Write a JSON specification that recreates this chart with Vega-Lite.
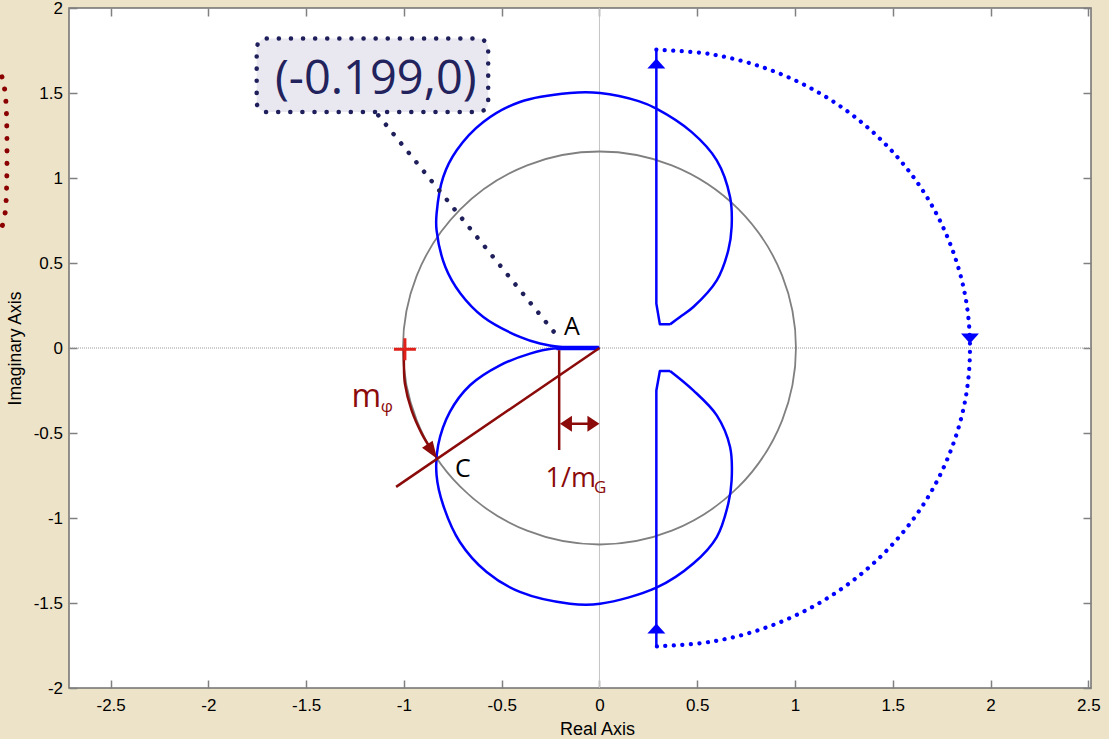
{
  "$schema": "https://vega.github.io/schema/vega-lite/v6.json",
  "width": 1022,
  "height": 680,
  "autosize": {"type": "none"},
  "padding": {"left": 69, "top": 8, "right": 18, "bottom": 51},
  "background": "#EDE3C8",
  "config": {
    "view": {"fill": "white", "stroke": "#707070", "strokeWidth": 1.5},
    "axis": {
      "grid": false, "domain": false,
      "labelFont": "Liberation Sans", "labelFontSize": 17, "labelColor": "black",
      "titleFont": "Liberation Sans", "titleFontSize": 17.5, "titleFontWeight": "normal", "titleColor": "black",
      "tickColor": "#808080", "tickWidth": 1.5
    }
  },
  "datasets": {
    "upper": [
      {"i": 0, "x": 0, "y": 0}, {"i": 1, "x": -0.1, "y": 0.002}, {"i": 2, "x": -0.202, "y": 0.006},
      {"i": 3, "x": -0.304, "y": 0.026}, {"i": 4, "x": -0.407, "y": 0.065}, {"i": 5, "x": -0.594, "y": 0.182},
      {"i": 6, "x": -0.711, "y": 0.32}, {"i": 7, "x": -0.788, "y": 0.476}, {"i": 8, "x": -0.833, "y": 0.692},
      {"i": 9, "x": -0.833, "y": 0.79}, {"i": 10, "x": -0.799, "y": 1.006}, {"i": 11, "x": -0.73, "y": 1.163},
      {"i": 12, "x": -0.594, "y": 1.329}, {"i": 13, "x": -0.407, "y": 1.447}, {"i": 14, "x": -0.151, "y": 1.5},
      {"i": 15, "x": 0.003, "y": 1.5}, {"i": 16, "x": 0.2, "y": 1.452}, {"i": 17, "x": 0.291, "y": 1.408},
      {"i": 18, "x": 0.472, "y": 1.27}, {"i": 19, "x": 0.6, "y": 1.104}, {"i": 20, "x": 0.668, "y": 0.888},
      {"i": 21, "x": 0.676, "y": 0.712}, {"i": 22, "x": 0.659, "y": 0.575}, {"i": 23, "x": 0.6, "y": 0.398},
      {"i": 24, "x": 0.48, "y": 0.241}, {"i": 25, "x": 0.412, "y": 0.182}, {"i": 26, "x": 0.361, "y": 0.139}
    ],
    "lower": [
      {"i": 0, "x": 0, "y": 0}, {"i": 1, "x": -0.1, "y": -0.002}, {"i": 2, "x": -0.236, "y": -0.003},
      {"i": 3, "x": -0.355, "y": -0.033}, {"i": 4, "x": -0.509, "y": -0.102}, {"i": 5, "x": -0.662, "y": -0.219},
      {"i": 6, "x": -0.765, "y": -0.376}, {"i": 7, "x": -0.825, "y": -0.572}, {"i": 8, "x": -0.833, "y": -0.749},
      {"i": 9, "x": -0.799, "y": -0.925}, {"i": 10, "x": -0.714, "y": -1.141}, {"i": 11, "x": -0.577, "y": -1.318},
      {"i": 12, "x": -0.407, "y": -1.435}, {"i": 13, "x": -0.151, "y": -1.504}, {"i": 14, "x": 0.003, "y": -1.504},
      {"i": 15, "x": 0.291, "y": -1.41}, {"i": 16, "x": 0.48, "y": -1.268}, {"i": 17, "x": 0.6, "y": -1.112},
      {"i": 18, "x": 0.659, "y": -0.915}, {"i": 19, "x": 0.676, "y": -0.778}, {"i": 20, "x": 0.668, "y": -0.582},
      {"i": 21, "x": 0.6, "y": -0.396}, {"i": 22, "x": 0.48, "y": -0.249}, {"i": 23, "x": 0.361, "y": -0.135}
    ],
    "corners": [
      {"side": "upper", "i": 0, "x": 0.361, "y": 0.139}, {"side": "upper", "i": 1, "x": 0.309, "y": 0.139},
      {"side": "upper", "i": 2, "x": 0.291, "y": 0.261}, {"side": "upper", "i": 3, "x": 0.291, "y": 1.755},
      {"side": "lower", "i": 0, "x": 0.361, "y": -0.135}, {"side": "lower", "i": 1, "x": 0.309, "y": -0.135},
      {"side": "lower", "i": 2, "x": 0.291, "y": -0.25}, {"side": "lower", "i": 3, "x": 0.291, "y": -1.755}
    ],
    "arc": [
      {"i": 0, "x": 0.291, "y": 1.755}, {"i": 1, "x": 0.571, "y": 1.728}, {"i": 2, "x": 0.841, "y": 1.649},
      {"i": 3, "x": 1.094, "y": 1.52}, {"i": 4, "x": 1.323, "y": 1.344}, {"i": 5, "x": 1.52, "y": 1.128},
      {"i": 6, "x": 1.68, "y": 0.878}, {"i": 7, "x": 1.798, "y": 0.6}, {"i": 8, "x": 1.871, "y": 0.305},
      {"i": 9, "x": 1.895, "y": 0}, {"i": 10, "x": 1.871, "y": -0.305}, {"i": 11, "x": 1.798, "y": -0.6},
      {"i": 12, "x": 1.68, "y": -0.878}, {"i": 13, "x": 1.52, "y": -1.128}, {"i": 14, "x": 1.323, "y": -1.344},
      {"i": 15, "x": 1.094, "y": -1.52}, {"i": 16, "x": 0.841, "y": -1.649}, {"i": 17, "x": 0.571, "y": -1.728},
      {"i": 18, "x": 0.291, "y": -1.755}
    ],
    "redarc": [
      {"i": 0, "x": -1.0, "y": 0.0}, {"i": 1, "x": -1.0, "y": -0.1}, {"i": 2, "x": -0.995, "y": -0.209},
      {"i": 3, "x": -0.961, "y": -0.366}, {"i": 4, "x": -0.909, "y": -0.504}, {"i": 5, "x": -0.862, "y": -0.595}
    ],
    "arrows": [
      {"k": "up", "c": "blue", "x": 0.291, "y": 1.703},
      {"k": "up", "c": "blue", "x": 0.291, "y": -1.621},
      {"k": "down", "c": "blue", "x": 1.895, "y": 0.026},
      {"k": "right", "c": "red", "x": 0.0, "y": -0.445},
      {"k": "left", "c": "red", "x": -0.202, "y": -0.445},
      {"k": "arc", "c": "red", "x": -0.83, "y": -0.652}
    ],
    "leftdots": [
      {"i": 0, "x": -3.056, "y": 1.595}, {"i": 1, "x": -3.038, "y": 1.486},
      {"i": 2, "x": -3.038, "y": 0.81}, {"i": 3, "x": -3.054, "y": 0.72}
    ]
  },
  "layer": [
    {
      "data": {"values": [{"x": 0}]},
      "mark": {"type": "rule", "color": "#C4C4C4", "strokeWidth": 1},
      "encoding": {"x": {"field": "x", "type": "quantitative", "axis": null}}
    },
    {
      "data": {"values": [{"y": 0}]},
      "mark": {"type": "rule", "color": "#9A9A9A", "strokeWidth": 1, "strokeDash": [1, 1]},
      "encoding": {"y": {"field": "y", "type": "quantitative", "axis": null}}
    },
    {
      "data": {"values": [{"x": 0, "y": 0}]},
      "mark": {"type": "point", "shape": "circle", "size": 154449, "filled": false, "stroke": "#808080", "strokeWidth": 1.8, "opacity": 1},
      "encoding": {
        "x": {"field": "x", "type": "quantitative",
          "scale": {"domain": [-2.713, 2.514], "nice": false, "zero": false},
          "axis": {"orient": "bottom", "values": [-2.5, -2, -1.5, -1, -0.5, 0, 0.5, 1, 1.5, 2, 2.5],
            "labelExpr": "toString(datum.value)", "title": "Real Axis", "titleFontSize": 18, "titleX": 528, "tickSize": -8, "labelPadding": 17, "titlePadding": 7}},
        "y": {"field": "y", "type": "quantitative",
          "scale": {"domain": [-2, 2], "nice": false, "zero": false},
          "axis": {"orient": "left", "values": [-2, -1.5, -1, -0.5, 0, 0.5, 1, 1.5, 2],
            "labelExpr": "toString(datum.value)", "title": "Imaginary Axis", "tickSize": -8, "labelPadding": 14.5, "titlePadding": 9}}
      }
    },
    {
      "data": {"values": [{"x": 0, "y": 0}]},
      "mark": {"type": "point", "opacity": 0},
      "encoding": {
        "x": {"field": "x", "type": "quantitative",
          "axis": {"orient": "top", "values": [-2.5, -2, -1.5, -1, -0.5, 0, 0.5, 1, 1.5, 2, 2.5], "labels": false, "title": null, "tickSize": -8}},
        "y": {"field": "y", "type": "quantitative",
          "axis": {"orient": "right", "values": [-2, -1.5, -1, -0.5, 0, 0.5, 1, 1.5, 2], "labels": false, "title": null, "tickSize": -8}}
      }
    },
    {
      "data": {"name": "upper"},
      "mark": {"type": "line", "color": "#0000FF", "strokeWidth": 2.5, "interpolate": "catmull-rom"},
      "encoding": {
        "x": {"field": "x", "type": "quantitative", "axis": null},
        "y": {"field": "y", "type": "quantitative", "axis": null},
        "order": {"field": "i", "type": "quantitative"}
      }
    },
    {
      "data": {"name": "lower"},
      "mark": {"type": "line", "color": "#0000FF", "strokeWidth": 2.5, "interpolate": "catmull-rom"},
      "encoding": {
        "x": {"field": "x", "type": "quantitative", "axis": null},
        "y": {"field": "y", "type": "quantitative", "axis": null},
        "order": {"field": "i", "type": "quantitative"}
      }
    },
    {
      "data": {"name": "corners"},
      "mark": {"type": "line", "color": "#0000FF", "strokeWidth": 2.5, "strokeJoin": "round"},
      "encoding": {
        "x": {"field": "x", "type": "quantitative", "axis": null},
        "y": {"field": "y", "type": "quantitative", "axis": null},
        "detail": {"field": "side"},
        "order": {"field": "i", "type": "quantitative"}
      }
    },
    {
      "data": {"values": [{"x": -0.22, "x2": -0.003, "y": 0}]},
      "mark": {"type": "rule", "color": "#0000FF", "strokeWidth": 4.5},
      "encoding": {
        "x": {"field": "x", "type": "quantitative", "axis": null},
        "x2": {"field": "x2"},
        "y": {"field": "y", "type": "quantitative", "axis": null}
      }
    },
    {
      "data": {"name": "arc"},
      "mark": {"type": "line", "color": "#0000FF", "strokeWidth": 4.2, "strokeDash": [0.1, 8.4], "strokeCap": "round", "interpolate": "catmull-rom"},
      "encoding": {
        "x": {"field": "x", "type": "quantitative", "axis": null},
        "y": {"field": "y", "type": "quantitative", "axis": null},
        "order": {"field": "i", "type": "quantitative"}
      }
    },
    {
      "data": {"name": "arrows"},
      "transform": [{"filter": "datum.c === 'blue'"}],
      "mark": {"type": "point", "filled": true, "size": 400, "opacity": 1, "color": "#0000FF", "strokeWidth": 0},
      "encoding": {
        "x": {"field": "x", "type": "quantitative", "axis": null},
        "y": {"field": "y", "type": "quantitative", "axis": null},
        "shape": {"field": "k", "type": "nominal", "legend": null,
          "scale": {"domain": ["up", "down", "right", "left", "arc"], "range": ["M0,0L0.9,1L-0.9,1Z", "M0,0L0.9,-1L-0.9,-1Z", "M0,0L-1.5,-1L-1.5,1Z", "M0,0L1.5,-1L1.5,1Z", "M0,0L-1.893,-1.377L-0.567,-2.271Z"]}}
      }
    },
    {
      "data": {"values": [{"x": -1.753, "x2": -0.569, "y": 1.388, "y2": 1.82}]},
      "mark": {"type": "rect", "fill": "#E9E8F1", "stroke": "#1F1F5C", "strokeWidth": 4.5, "strokeDash": [0.1, 12], "strokeCap": "round", "cornerRadius": 10},
      "encoding": {
        "x": {"field": "x", "type": "quantitative", "axis": null},
        "x2": {"field": "x2"},
        "y": {"field": "y", "type": "quantitative", "axis": null},
        "y2": {"field": "y2"}
      }
    },
    {
      "data": {"values": [{"x": -1.131, "y": 1.369, "x2": -0.219, "y2": 0.075}]},
      "mark": {"type": "rule", "color": "#1F1F5C", "strokeWidth": 4.5, "strokeDash": [0.1, 12], "strokeCap": "round"},
      "encoding": {
        "x": {"field": "x", "type": "quantitative", "axis": null},
        "x2": {"field": "x2"},
        "y": {"field": "y", "type": "quantitative", "axis": null},
        "y2": {"field": "y2"}
      }
    },
    {
      "data": {"values": [{"x": -1.144, "y": 1.493, "t": "(-0.199,0)"}]},
      "mark": {"type": "text", "font": "Open Sans", "fontSize": 47, "color": "#22225C", "align": "center", "baseline": "alphabetic"},
      "encoding": {
        "x": {"field": "x", "type": "quantitative", "axis": null},
        "y": {"field": "y", "type": "quantitative", "axis": null},
        "text": {"field": "t"}
      }
    },
    {
      "data": {"values": [{"x": -0.141, "y": 0.075, "t": "A"}, {"x": -0.698, "y": -0.761, "t": "C"}]},
      "mark": {"type": "text", "font": "Open Sans", "fontSize": 25, "color": "black", "align": "center", "baseline": "alphabetic"},
      "encoding": {
        "x": {"field": "x", "type": "quantitative", "axis": null},
        "y": {"field": "y", "type": "quantitative", "axis": null},
        "text": {"field": "t"}
      }
    },
    {
      "data": {"values": [
        {"k": "radial", "x": 0, "y": 0, "x2": -1.04, "y2": -0.817},
        {"k": "gain", "x": -0.206, "y": -0.013, "x2": -0.206, "y2": -0.6},
        {"k": "dbl", "x": -0.185, "y": -0.445, "x2": -0.015, "y2": -0.445}
      ]},
      "mark": {"type": "rule", "color": "#8B0A0A", "strokeWidth": 2.5},
      "encoding": {
        "x": {"field": "x", "type": "quantitative", "axis": null},
        "x2": {"field": "x2"},
        "y": {"field": "y", "type": "quantitative", "axis": null},
        "y2": {"field": "y2"}
      }
    },
    {
      "data": {"name": "redarc"},
      "mark": {"type": "line", "color": "#8B0A0A", "strokeWidth": 2.5, "interpolate": "catmull-rom"},
      "encoding": {
        "x": {"field": "x", "type": "quantitative", "axis": null},
        "y": {"field": "y", "type": "quantitative", "axis": null},
        "order": {"field": "i", "type": "quantitative"}
      }
    },
    {
      "data": {"name": "arrows"},
      "transform": [{"filter": "datum.c === 'red'"}],
      "mark": {"type": "point", "filled": true, "size": 256, "opacity": 1, "color": "#8B0A0A", "strokeWidth": 0},
      "encoding": {
        "x": {"field": "x", "type": "quantitative", "axis": null},
        "y": {"field": "y", "type": "quantitative", "axis": null},
        "shape": {"field": "k", "type": "nominal", "legend": null}
      }
    },
    {
      "data": {"values": [{"x": -0.995, "y": -0.008}]},
      "mark": {"type": "point", "shape": "M-1,0L1,0M0,-1L0,1", "size": 484, "filled": false, "stroke": "#E0201B", "strokeWidth": 3, "opacity": 1},
      "encoding": {
        "x": {"field": "x", "type": "quantitative", "axis": null},
        "y": {"field": "y", "type": "quantitative", "axis": null}
      }
    },
    {
      "data": {"values": [{"x": -1.193, "y": -0.347, "t": "m"}]},
      "mark": {"type": "text", "font": "Open Sans", "fontSize": 32, "color": "#8B0A0A", "align": "center", "baseline": "alphabetic"},
      "encoding": {
        "x": {"field": "x", "type": "quantitative", "axis": null},
        "y": {"field": "y", "type": "quantitative", "axis": null},
        "text": {"field": "t"}
      }
    },
    {
      "data": {"values": [{"x": -0.147, "y": -0.818, "t": "1/m"}]},
      "mark": {"type": "text", "font": "Open Sans", "fontSize": 27, "color": "#8B0A0A", "align": "center", "baseline": "alphabetic"},
      "encoding": {
        "x": {"field": "x", "type": "quantitative", "axis": null},
        "y": {"field": "y", "type": "quantitative", "axis": null},
        "text": {"field": "t"}
      }
    },
    {
      "data": {"values": [{"x": -1.088, "y": -0.375, "t": "φ"}, {"x": 0.004, "y": -0.851, "t": "G"}]},
      "mark": {"type": "text", "font": "Open Sans", "fontSize": 17, "color": "#8B0A0A", "align": "center", "baseline": "alphabetic"},
      "encoding": {
        "x": {"field": "x", "type": "quantitative", "axis": null},
        "y": {"field": "y", "type": "quantitative", "axis": null},
        "text": {"field": "t"}
      }
    },
    {
      "data": {"name": "leftdots"},
      "mark": {"type": "line", "color": "#8B0000", "strokeWidth": 5, "strokeDash": [0.1, 12.3], "strokeCap": "round", "interpolate": "catmull-rom"},
      "encoding": {
        "x": {"field": "x", "type": "quantitative", "axis": null},
        "y": {"field": "y", "type": "quantitative", "axis": null},
        "order": {"field": "i", "type": "quantitative"}
      }
    }
  ],
  "resolve": {"axis": {"x": "independent", "y": "independent"}}
}
